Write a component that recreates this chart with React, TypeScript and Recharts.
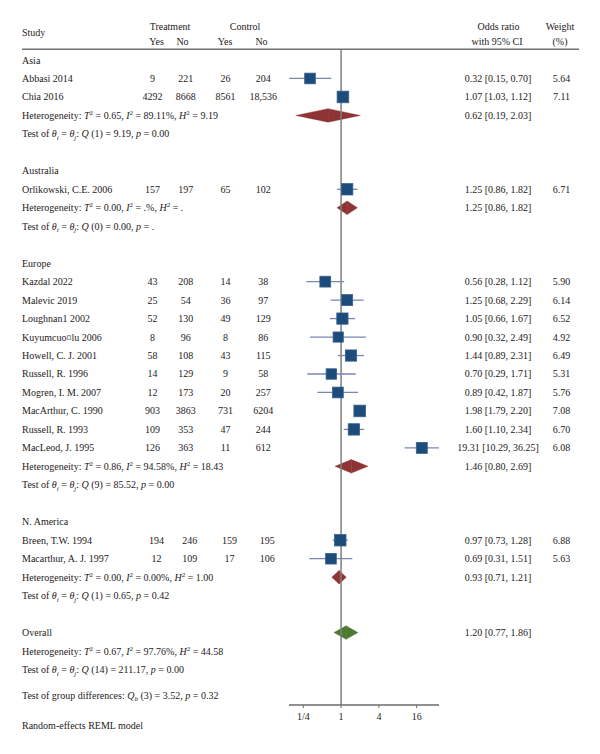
import React from "react";
import {
  ComposedChart,
  XAxis,
  YAxis,
  Scatter,
  ErrorBar,
  ReferenceLine,
  ReferenceArea,
} from "recharts";

// --- data ---
const groupNames = ["Asia", "Australia", "Europe", "N. America"];

const studyNames = [
  "Abbasi 2014",
  "Chia 2016",
  "Orlikowski, C.E. 2006",
  "Kazdal 2022",
  "Malevic 2019",
  "Loughnan1 2002",
  "Kuyumcuo¤lu 2006",
  "Howell, C. J. 2001",
  "Russell, R. 1996",
  "Mogren, I. M. 2007",
  "MacArthur, C. 1990",
  "Russell, R. 1993",
  "MacLeod, J. 1995",
  "Breen, T.W. 1994",
  "Macarthur, A. J. 1997",
];
const studyGroup = [0, 0, 1, 2, 2, 2, 2, 2, 2, 2, 2, 2, 2, 3, 3];
const treatYes = [9, 4292, 157, 43, 25, 52, 8, 58, 14, 12, 903, 109, 126, 194, 12];
const treatNo = [221, 8668, 197, 208, 54, 130, 96, 108, 129, 173, 3863, 353, 363, 246, 109];
const ctrlYes = [26, 8561, 65, 14, 36, 49, 8, 43, 9, 20, 731, 47, 11, 159, 17];
const ctrlNo = [204, 18536, 102, 38, 97, 129, 86, 115, 58, 257, 6204, 244, 612, 195, 106];
const oddsRatio = [0.32, 1.07, 1.25, 0.56, 1.25, 1.05, 0.9, 1.44, 0.7, 0.89, 1.98, 1.6, 19.31, 0.97, 0.69];
const ciLow = [0.15, 1.03, 0.86, 0.28, 0.68, 0.66, 0.32, 0.89, 0.29, 0.42, 1.79, 1.1, 10.29, 0.73, 0.31];
const ciHigh = [0.7, 1.12, 1.82, 1.12, 2.29, 1.67, 2.49, 2.31, 1.71, 1.87, 2.2, 2.34, 36.25, 1.28, 1.51];
const weights = [5.64, 7.11, 6.71, 5.9, 6.14, 6.52, 4.92, 6.49, 5.31, 5.76, 7.08, 6.7, 6.08, 6.88, 5.63];

const pooledOR = [0.62, 1.25, 1.46, 0.93];
const pooledLow = [0.19, 0.86, 0.8, 0.71];
const pooledHigh = [2.03, 1.82, 2.69, 1.21];
const hetT2 = ["0.65", "0.00", "0.86", "0.00"];
const hetI2 = ["89.11%", ".%", "94.58%", "0.00%"];
const hetH2 = ["9.19", ".", "18.43", "1.00"];
const testDf = ["1", "0", "9", "1"];
const testQ = ["9.19", "0.00", "85.52", "0.65"];
const testP = ["0.00", ".", "0.00", "0.42"];

const overallEst = [1.2, 0.77, 1.86];
const overallHet = ["0.67", "97.76%", "44.58"];
const overallTest = ["14", "211.17", "0.00"];
const groupDiff = ["3", "3.52", "0.32"];

const axisTicks = [0.25, 1, 4, 16];
const axisTickLabels = ["1/4", "1", "4", "16"];

// --- layout ---
const FONT = '"Liberation Serif", "Times New Roman", serif';
const INK = "#1e1a1b";
const ROW0 = 60;
const ROW_H = 18.47;
const COLS = [152.5, 185.7, 225.5, 263.3];
const colShift = [0, 0, 0, 4]; // N. America columns sit a little to the right

const rowY = (r: number) => ROW0 + r * ROW_H;
const fmtCount = (n: number) => (n >= 10000 ? n.toLocaleString("en-US") : String(n));
const fmtCI = (e: number, l: number, h: number) =>
  `${e.toFixed(2)} [${l.toFixed(2)}, ${h.toFixed(2)}]`;

// assign rows: group label, studies, pooled (heterogeneity), test, blank
const studyRow: number[] = [];
const groupRow: number[] = [];
const pooledRow: number[] = [];
let r = 0;
groupNames.forEach((_, g) => {
  groupRow[g] = r++;
  studyNames.forEach((_, i) => {
    if (studyGroup[i] === g) studyRow[i] = r++;
  });
  pooledRow[g] = r++;
  r++; // test line
  r++; // blank
});
const overallRow = r;

const studyData = studyNames.map((name, i) => ({
  name,
  or: oddsRatio[i],
  row: studyRow[i],
  weight: weights[i],
  err: [oddsRatio[i] - ciLow[i], ciHigh[i] - oddsRatio[i]],
}));

const diamonds = [
  ...pooledOR.map((e, g) => ({ est: e, lo: pooledLow[g], hi: pooledHigh[g], row: pooledRow[g], color: "#8e3434" })),
  { est: overallEst[0], lo: overallEst[1], hi: overallEst[2], row: overallRow, color: "#4e7a34" },
];

const SquareShape = (props: any) => {
  const { cx, cy, payload } = props;
  const s = 7 + 0.65 * payload.weight;
  return <rect x={cx - s / 2} y={cy - s / 2} width={s} height={s} fill="#1d4c7a" stroke="#34628f" strokeWidth={0.8} />;
};

// each diamond = two reference areas (lo..est, est..hi) drawn as triangles
const halfDiamond = (color: string, side: "left" | "right") => (p: any) => {
  const { x, y, width, height } = p;
  const cy = y + height / 2;
  const pts =
    side === "left"
      ? `${x},${cy} ${x + width},${y} ${x + width},${y + height}`
      : `${x},${y} ${x + width},${cy} ${x},${y + height}`;
  return <polygon points={pts} fill={color} stroke={color} strokeWidth={0.4} />;
};

const HetLine = ({ y, t2, i2, h2 }: { y: number; t2: string; i2: string; h2: string }) => (
  <text x={22} y={y}>
    Heterogeneity: <tspan fontStyle="italic">T</tspan>
    <tspan dy={-4} fontSize={7}>2</tspan>
    <tspan dy={4}> = {t2}, </tspan>
    <tspan fontStyle="italic">I</tspan>
    <tspan dy={-4} fontSize={7}>2</tspan>
    <tspan dy={4}> = {i2}, </tspan>
    <tspan fontStyle="italic">H</tspan>
    <tspan dy={-4} fontSize={7}>2</tspan>
    <tspan dy={4}> = {h2}</tspan>
  </text>
);

const TestLine = ({ y, df, q, p }: { y: number; df: string; q: string; p: string }) => (
  <text x={22} y={y}>
    Test of <tspan fontStyle="italic">θ</tspan>
    <tspan dy={2.5} fontSize={7} fontStyle="italic">i</tspan>
    <tspan dy={-2.5}> = </tspan>
    <tspan fontStyle="italic">θ</tspan>
    <tspan dy={2.5} fontSize={7} fontStyle="italic">j</tspan>
    <tspan dy={-2.5}>: </tspan>
    <tspan fontStyle="italic">Q</tspan>
    <tspan> ({df}) = {q}, </tspan>
    <tspan fontStyle="italic">p</tspan>
    <tspan> = {p}</tspan>
  </text>
);

const App = () => {
  const b = 3.5; // baseline offset from row centre
  return (
    <div style={{ position: "absolute", left: 0, top: 0, width: 600, height: 754, background: "#fff" }}>
      <ComposedChart width={600} height={754} margin={{ top: 49, right: 161, bottom: 19, left: 289 }}>
        <XAxis
          type="number"
          dataKey="or"
          scale="log"
          domain={[0.148, 36.3]}
          allowDataOverflow
          ticks={axisTicks}
          interval={0}
          tickFormatter={(v: number) => axisTickLabels[axisTicks.indexOf(v)]}
          tickSize={3}
          tickMargin={5}
          axisLine={{ stroke: "#6b6b6b", strokeWidth: 1.3 }}
          tickLine={{ stroke: "#6b6b6b" }}
          tick={{ fill: INK, fontSize: 10, fontFamily: FONT }}
        />
        <YAxis type="number" dataKey="row" domain={[-0.5956, 34.92]} reversed allowDataOverflow hide width={0} />
        {diamonds.map((d, k) => (
          <ReferenceArea
            key={`l${k}`}
            x1={d.lo}
            x2={d.est}
            y1={d.row - 0.365}
            y2={d.row + 0.365}
            ifOverflow="visible"
            shape={halfDiamond(d.color, "left")}
          />
        ))}
        {diamonds.map((d, k) => (
          <ReferenceArea
            key={`r${k}`}
            x1={d.est}
            x2={d.hi}
            y1={d.row - 0.365}
            y2={d.row + 0.365}
            ifOverflow="visible"
            shape={halfDiamond(d.color, "right")}
          />
        ))}
        <ReferenceLine x={1} stroke="#7f7f7f" strokeWidth={1.5} />
        <Scatter data={studyData} shape={SquareShape} isAnimationActive={false}>
          <ErrorBar dataKey="err" direction="x" width={0} stroke="#7886b3" strokeWidth={1.3} isAnimationActive={false} />
        </Scatter>
      </ComposedChart>

      {/* table text */}
      <svg
        width={600}
        height={754}
        style={{ position: "absolute", left: 0, top: 0, pointerEvents: "none" }}
        fontFamily={FONT}
        fontSize={10}
        fill={INK}
      >
        <line x1={22} x2={579} y1={49.3} y2={49.3} stroke="#707070" strokeWidth={1.5} />
        <text x={22} y={36}>Study</text>
        <text x={170} y={29.5} textAnchor="middle">Treatment</text>
        <text x={245} y={29.5} textAnchor="middle">Control</text>
        <text x={156.5} y={44.5} textAnchor="middle">Yes</text>
        <text x={182.5} y={44.5} textAnchor="middle">No</text>
        <text x={225} y={44.5} textAnchor="middle">Yes</text>
        <text x={261.5} y={44.5} textAnchor="middle">No</text>
        <text x={498.5} y={29.5} textAnchor="middle">Odds ratio</text>
        <text x={497} y={44.5} textAnchor="middle">with 95% CI</text>
        <text x={560} y={29.5} textAnchor="middle">Weight</text>
        <text x={560} y={44.5} textAnchor="middle">(%)</text>

        {groupNames.map((g, k) => (
          <text key={g} x={22} y={rowY(groupRow[k]) + b}>{g}</text>
        ))}

        {studyNames.map((name, i) => {
          const y = rowY(studyRow[i]) + b;
          const sh = colShift[studyGroup[i]];
          const counts = [treatYes[i], treatNo[i], ctrlYes[i], ctrlNo[i]];
          return (
            <g key={name}>
              <text x={22} y={y}>{name}</text>
              {counts.map((c, j) => (
                <text key={j} x={COLS[j] + sh} y={y} textAnchor="middle">{fmtCount(c)}</text>
              ))}
              <text x={498} y={y} textAnchor="middle">{fmtCI(oddsRatio[i], ciLow[i], ciHigh[i])}</text>
              <text x={561.5} y={y} textAnchor="middle">{weights[i].toFixed(2)}</text>
            </g>
          );
        })}

        {groupNames.map((g, k) => (
          <g key={`s${g}`}>
            <HetLine y={rowY(pooledRow[k]) + b} t2={hetT2[k]} i2={hetI2[k]} h2={hetH2[k]} />
            <TestLine y={rowY(pooledRow[k] + 1) + b} df={testDf[k]} q={testQ[k]} p={testP[k]} />
            <text x={498} y={rowY(pooledRow[k]) + b} textAnchor="middle">
              {fmtCI(pooledOR[k], pooledLow[k], pooledHigh[k])}
            </text>
          </g>
        ))}

        <text x={22} y={rowY(overallRow) + b}>Overall</text>
        <text x={498} y={rowY(overallRow) + b} textAnchor="middle">
          {fmtCI(overallEst[0], overallEst[1], overallEst[2])}
        </text>
        <HetLine y={rowY(overallRow + 1) + b} t2={overallHet[0]} i2={overallHet[1]} h2={overallHet[2]} />
        <TestLine y={rowY(overallRow + 2) + b} df={overallTest[0]} q={overallTest[1]} p={overallTest[2]} />
        <text x={22} y={695 + b}>
          Test of group differences: <tspan fontStyle="italic">Q</tspan>
          <tspan dy={2.5} fontSize={7} fontStyle="italic">b</tspan>
          <tspan dy={-2.5}> ({groupDiff[0]}) = {groupDiff[1]}, </tspan>
          <tspan fontStyle="italic">p</tspan>
          <tspan> = {groupDiff[2]}</tspan>
        </text>
        <text x={22} y={725.7 + b}>Random-effects REML model</text>
      </svg>
    </div>
  );
};

export default App;
